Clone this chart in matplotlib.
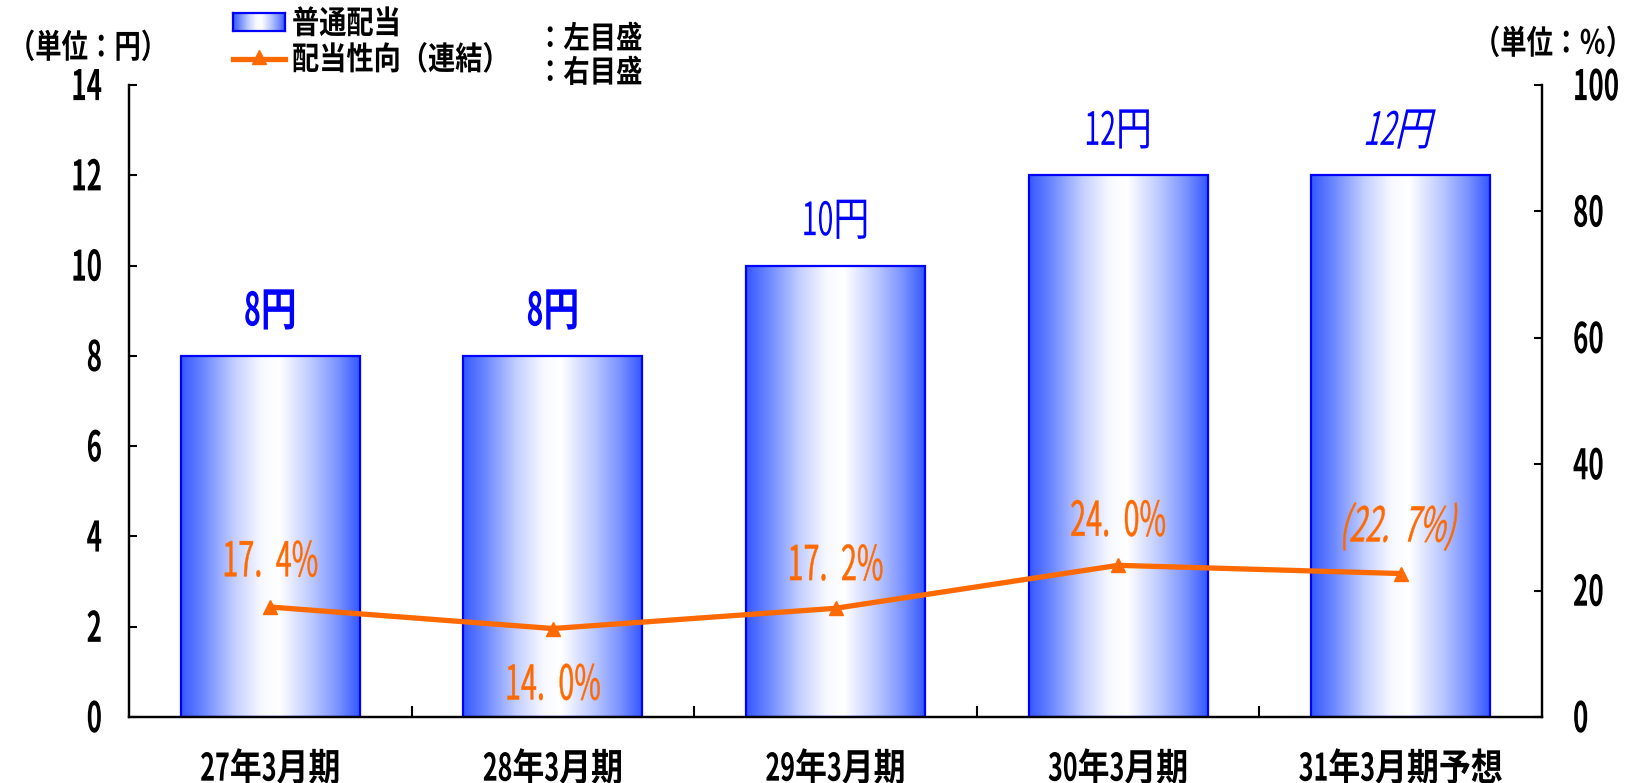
import matplotlib
matplotlib.use("Agg")
import matplotlib.pyplot as plt
import numpy as np
from matplotlib.colors import LinearSegmentedColormap
from matplotlib.lines import Line2D
from matplotlib.textpath import TextPath, text_to_path
from matplotlib.font_manager import FontProperties
from matplotlib.path import Path
from matplotlib.patches import PathPatch
import matplotlib.transforms as mtransforms

categories = ["27年3月期", "28年3月期", "29年3月期", "30年3月期", "31年3月期予想"]
dividend = [8, 8, 10, 12, 12]
dividend_labels = ["8円", "8円", "10円", "12円", "12円"]
payout = [17.4, 14.0, 17.2, 24.0, 22.7]
payout_labels = ["17. 4%", "14. 0%", "17. 2%", "24. 0%", "(22. 7%)"]
left_ticks = [0, 2, 4, 6, 8, 10, 12, 14]
right_ticks = [0, 20, 40, 60, 80, 100]

plt.rcParams['font.family'] = ["Noto Sans CJK JP", "DejaVu Sans"]

BLUE = "#0000ff"
ORANGE = "#ff6a00"
W, H = 1634, 783

fig = plt.figure(figsize=(W / 100, H / 100), dpi=100)
AX_L, AX_R, AX_T, AX_B = 129, 1542, 85, 717
ax = fig.add_axes([AX_L / W, (H - AX_B) / H, (AX_R - AX_L) / W, (AX_B - AX_T) / H])
ax2 = ax.twinx()


def ctext(x, y, s, trans, size, color, weight="normal", italic=False, ha="center",
          sxn=0.65, sxw=0.82, stroke=0.0, space_extra=0.0, zorder=10):
    fp = FontProperties(family="Noto Sans CJK JP", weight=weight, size=size)
    runs = []
    for ch in s:
        n = ord(ch) < 0x2000
        if runs and runs[-1][1] == n and ch != " " and runs[-1][0][-1] != " ":
            runs[-1][0] += ch
        else:
            runs.append([ch, n])
    paths = []
    cursor = 0.0
    for run, n in runs:
        sx = sxn if n else sxw
        w, h, d = text_to_path.get_text_width_height_descent(run, fp, ismath=False)
        if run.strip():
            tp = TextPath((0, 0), run, size=size, prop=fp)
            v = np.array(tp.vertices, dtype=float).copy()
            if len(v):
                v[:, 0] = v[:, 0] * sx + cursor
                paths.append(Path(v, tp.codes))
        cursor += w * sx
        if run == " ":
            cursor += space_extra
    path = Path.make_compound_path(*paths)
    dx = {"center": -cursor / 2, "left": 0.0, "right": -cursor}[ha]
    dy = -0.36 * size
    t = mtransforms.Affine2D().translate(dx, dy)
    if italic:
        t = t.skew_deg(13, 0)
    t = t + mtransforms.ScaledTranslation(x, y, trans)
    p = PathPatch(path, transform=t, facecolor=color,
                  edgecolor=color if stroke > 0 else "none", linewidth=stroke, zorder=zorder)
    fig.add_artist(p)
    return p


def px(x, y):
    return x, H - y


PIX = mtransforms.IdentityTransform()

x = np.arange(len(categories))
cmap = LinearSegmentedColormap.from_list(
    "g", [(0.0, "#3658ff"), (0.12, "#6a86ff"), (0.3, "#c4cfff"), (0.45, "#f8f9ff"),
          (0.55, "#ffffff"), (0.72, "#c0ccff"), (0.88, "#7a92ff"), (1.0, "#3658ff")])
grad = np.linspace(0, 1, 256).reshape(1, -1)

bars = ax.bar(x, dividend, width=0.633, facecolor="none", edgecolor=BLUE, linewidth=1.6, zorder=3)
for b in bars:
    x0, y0 = b.get_x(), b.get_y()
    w, h = b.get_width(), b.get_height()
    ax.imshow(grad, cmap=cmap, aspect="auto", extent=(x0, x0 + w, y0, y0 + h),
              zorder=2, interpolation="bilinear")
ax.set_xlim(-0.5, len(categories) - 0.5)
ax.set_ylim(0, 14)
ax2.set_ylim(0, 100)

for i, (v, lab) in enumerate(zip(dividend, dividend_labels)):
    ctext(i, v + 1.04, lab, ax.transData, 46, BLUE,
          weight="bold" if i < 2 else "normal", italic=(i == 4), sxn=0.62, sxw=0.78)

ax2.plot(x, payout, color=ORANGE, linewidth=3.8, marker="^", markersize=10, zorder=5)
offsets = [7.6, -8.5, 7.2, 7.4, 7.8]
for i, (v, lab, off) in enumerate(zip(payout, payout_labels, offsets)):
    ctext(i, v + off, lab, ax2.transData, 48, ORANGE, italic=(i == 4), sxn=0.6,
          space_extra=7, stroke=0.3)

# Y ticks (drawn), labels as condensed text
ax.set_yticks(left_ticks)
ax.set_yticklabels([])
ax2.set_yticks(right_ticks)
ax2.set_yticklabels([])
ax.tick_params(axis="y", direction="in", length=6, width=1.5)
ax2.tick_params(axis="y", direction="in", length=6, width=1.5)
lx = (102 - AX_L) / (AX_R - AX_L)
rx = (1573 - AX_L) / (AX_R - AX_L)
for t in left_ticks:
    ctext(lx, t, str(t), ax.get_yaxis_transform(), 42, "black", weight="bold", ha="right", sxn=0.62)
for t in right_ticks:
    ctext(rx, t, str(t), ax2.get_yaxis_transform(), 42, "black", weight="bold", ha="left", sxn=0.62)

ax.set_xticks(x[:-1] + 0.5)
ax.set_xticklabels([])
ax.tick_params(axis="x", direction="in", length=8, width=1.5)
xy = (AX_B - 767) / (AX_B - AX_T)
for i, c in enumerate(categories):
    ctext(i, xy, c, ax.get_xaxis_transform(), 38, "black", weight="bold", sxn=0.66, sxw=0.84)

for a in (ax, ax2):
    a.spines["top"].set_visible(False)
    for s in ("left", "right", "bottom"):
        a.spines[s].set_linewidth(1.6)
        a.spines[s].set_color("black")

# Unit labels
ctext(*px(88, 46), "（単位：円）", PIX, 33, "black", weight="bold", sxw=0.8)
ctext(*px(1553, 42), "（単位：％）", PIX, 33, "black", weight="bold", sxw=0.8)

# Legend (manual)
lax = fig.add_axes([233 / W, (H - 31) / H, 52 / W, 18 / H])
lax.imshow(grad, cmap=cmap, aspect="auto", extent=(0, 1, 0, 1), interpolation="bilinear")
lax.set_xticks([]); lax.set_yticks([])
for s in lax.spines.values():
    s.set_color(BLUE); s.set_linewidth(1.6)
fig.lines.append(Line2D([233 / W, 285 / W], [1 - 59 / H, 1 - 59 / H], transform=fig.transFigure,
                        color=ORANGE, linewidth=3.8))
fig.lines.append(Line2D([259 / W], [1 - 57 / H], transform=fig.transFigure, color=ORANGE,
                        marker="^", markersize=10, linestyle="none"))
ctext(*px(292, 22), "普通配当", PIX, 32, "black", weight="bold", ha="left", sxw=0.85)
ctext(*px(292, 58), "配当性向（連結）", PIX, 32, "black", weight="bold", ha="left", sxw=0.85)
ctext(*px(537, 37), "：左目盛", PIX, 31, "black", weight="bold", ha="left", sxw=0.85)
ctext(*px(537, 71), "：右目盛", PIX, 31, "black", weight="bold", ha="left", sxw=0.85)

fig.savefig("out.png", dpi=100)
